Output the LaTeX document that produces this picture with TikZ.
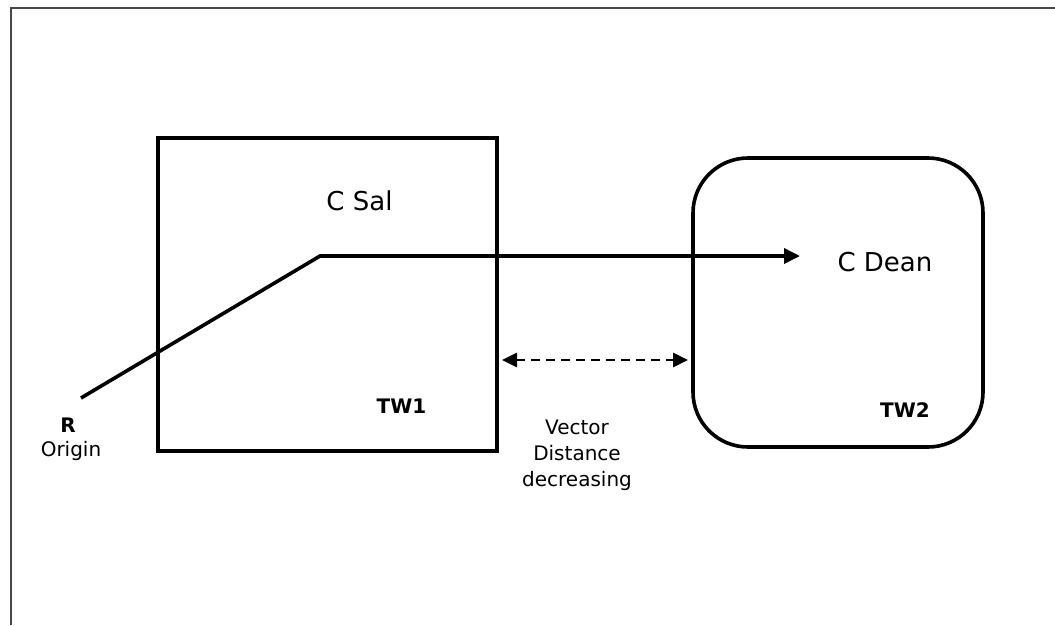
\documentclass[tikz,border=0pt]{standalone}
\usepackage{fontspec}
\setmainfont{DejaVu Sans}
\usetikzlibrary{arrows.meta,positioning}
\definecolor{framegray}{RGB}{70,70,70}

\begin{document}
\begin{tikzpicture}[
  x=1pt,y=-1pt,
  win/.style={draw,line width=3.6pt,inner sep=0pt},
  big/.style={font=\fontsize{26}{30}\selectfont,inner sep=0pt},
  small/.style={font=\fontsize{20}{26}\selectfont,inner sep=0pt,align=center},
  tag/.style={font=\fontsize{20}{24}\selectfont\bfseries,inner sep=0pt},
  arr/.style={-{Triangle[length=16pt,width=15pt]},line width=3.6pt},
  darr/.style={{Triangle[length=15pt,width=14pt]}-{Triangle[length=15pt,width=14pt]},line width=2.8pt,dash pattern=on 9pt off 6pt}
]
\useasboundingbox (0,0) rectangle (1055,625);
% outer frame
\draw[framegray,line width=2pt] (11,625) -- (11,8) -- (1055,8);
% the two windows
\node[win,minimum width=339pt,minimum height=313pt] (tw1) at (327.5,294.5) {};
\node[win,rounded corners=55pt,minimum width=290pt,minimum height=289pt] (tw2) at (838,302.5) {};
\node[big,anchor=base] (csal) at (359.5,210.5) {C Sal};
\node[big,anchor=base] (cdean) at (885,271) {C Dean};
\node[tag,anchor=base] (tw1lab) at (401.5,413) {TW1};
\node[tag,anchor=base] (tw2lab) at (905,417) {TW2};
\node[tag,anchor=base] (r) at (68,432) {R};
\node[small,anchor=base] (origin) at (71,456) {Origin};
\node[small] (vec) at (577,455) {Vector\\Distance\\decreasing};
% path from origin
\coordinate (start) at (81,398);
\coordinate (bend) at (320,256);
\coordinate (tip) at (800,256);
\draw[arr,line join=miter] (start) -- (bend) -- (tip);
% distance between windows
\coordinate (dl) at (502,360);
\coordinate (dr) at (688,360);
\draw[darr] (dl) -- (dr);
\end{tikzpicture}
\end{document}
